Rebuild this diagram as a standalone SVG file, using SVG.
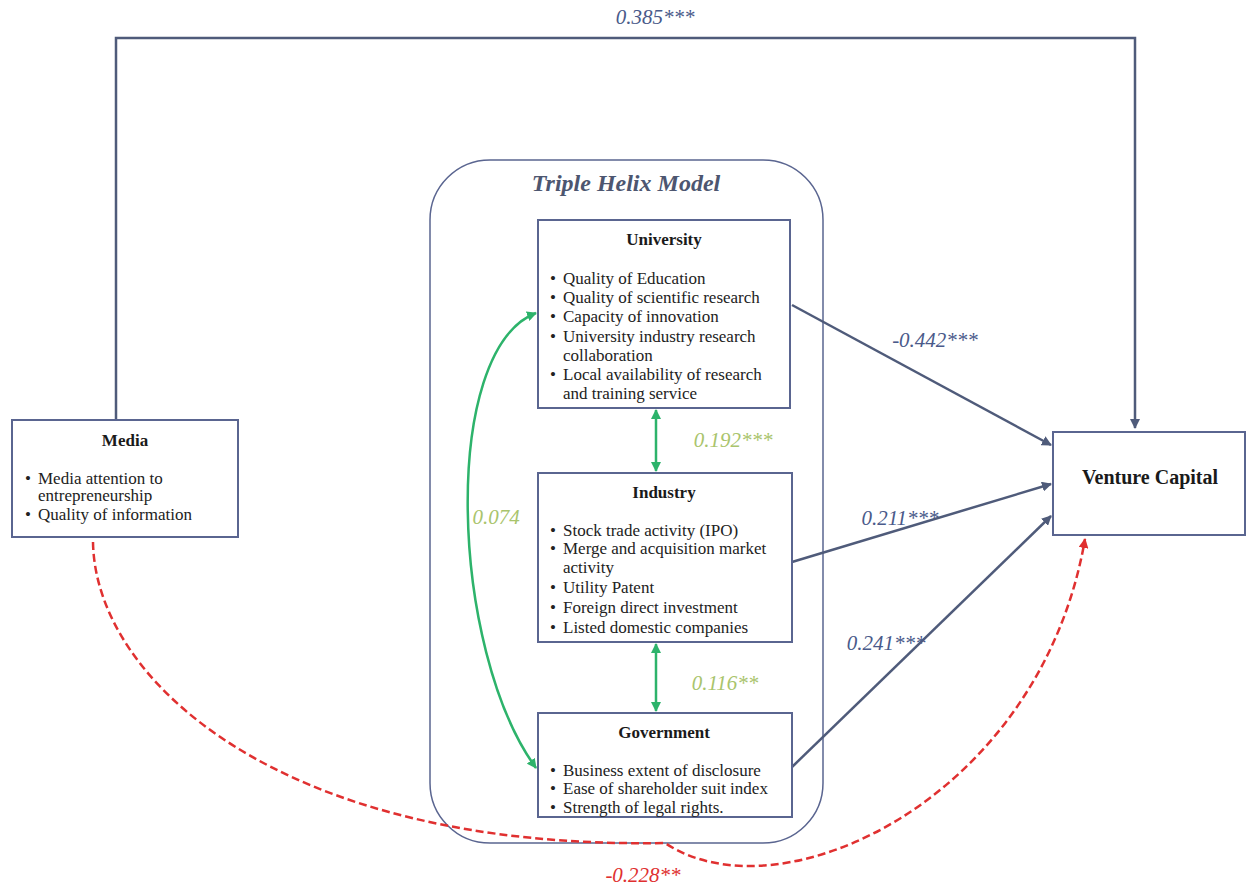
<svg xmlns="http://www.w3.org/2000/svg" width="1247" height="886" viewBox="0 0 1247 886">
<defs>
<style>
.box{fill:#fff;stroke:#5a6590;stroke-width:2}
.title{font-family:"Liberation Serif",serif;font-weight:bold;font-size:17px;fill:#1a1a1a;text-anchor:middle}
.vc{font-size:20px}
.item{font-family:"Liberation Serif",serif;font-size:17px;fill:#222}
.lbl{font-family:"Liberation Serif",serif;font-style:italic;font-size:21px}
.blue{fill:#4a5a8a}
.green{fill:#a9c46c}
.red{fill:#e03030}
.arr{fill:none;stroke:#4f5b7a;stroke-width:2.5}
.garr{fill:none;stroke:#2db36b;stroke-width:2.5}
.rarr{fill:none;stroke:#e03030;stroke-width:2.5;stroke-dasharray:8 4}
</style>
<marker id="ah" viewBox="0 0 10 10" refX="9" refY="5" markerWidth="4" markerHeight="4" orient="auto-start-reverse"><path d="M0,0 L10,5 L0,10 z" fill="#4f5b7a"/></marker>
<marker id="gh" viewBox="0 0 10 10" refX="9" refY="5" markerWidth="4" markerHeight="4" orient="auto-start-reverse"><path d="M0,0 L10,5 L0,10 z" fill="#2db36b"/></marker>
<marker id="rh" viewBox="0 0 10 10" refX="9" refY="5" markerWidth="4" markerHeight="4" orient="auto-start-reverse"><path d="M0,0 L10,5 L0,10 z" fill="#e03030"/></marker>
</defs>
<rect width="1247" height="886" fill="#fff"/>

<g id="triple-helix">
<rect x="430" y="160" width="393" height="683" rx="60" ry="60" fill="none" stroke="#5a6590" stroke-width="1.5"/>
<text x="626" y="191" font-family="Liberation Serif,serif" font-weight="bold" font-style="italic" font-size="24" fill="#4d5670" text-anchor="middle">Triple Helix Model</text>
</g>

<g id="connectors">
<path class="arr" d="M116,420 V38 H1135 V428" marker-end="url(#ah)"/>
<path class="arr" d="M792,305 L1051,445" marker-end="url(#ah)"/>
<path class="arr" d="M792,562 L1051,484" marker-end="url(#ah)"/>
<path class="arr" d="M792,767 L1051,516" marker-end="url(#ah)"/>
<path class="garr" d="M656,410 V471" marker-start="url(#gh)" marker-end="url(#gh)"/>
<path class="garr" d="M656,644 V711" marker-start="url(#gh)" marker-end="url(#gh)"/>
<path class="garr" d="M536,313 C440,350 450,650 536,768" marker-start="url(#gh)" marker-end="url(#gh)"/>
<path class="rarr" d="M93,542 C95,680 280,850 665,843 C780,920 1040,800 1085,539" marker-end="url(#rh)"/>
<text class="lbl blue" x="655" y="24" text-anchor="middle">0.385***</text>
<text class="lbl blue" x="935" y="347" text-anchor="middle">-0.442***</text>
<text class="lbl blue" x="900" y="525" text-anchor="middle">0.211***</text>
<text class="lbl blue" x="886" y="650" text-anchor="middle">0.241***</text>
<text class="lbl green" x="733" y="447" text-anchor="middle">0.192***</text>
<text class="lbl green" x="725" y="690" text-anchor="middle">0.116**</text>
<text class="lbl green" x="496" y="524" text-anchor="middle">0.074</text>
<text class="lbl red" x="643" y="882" text-anchor="middle">-0.228**</text>
</g>

<g id="media">
<rect class="box" x="12" y="420" width="226" height="117"/>
<text class="title" x="125" y="446">Media</text>
<text class="item" x="25" y="484">•</text><text class="item" x="38" y="484">Media attention to</text>
<text class="item" x="38" y="501">entrepreneurship</text>
<text class="item" x="25" y="520">•</text><text class="item" x="38" y="520">Quality of information</text>
</g>

<g id="university">
<rect class="box" x="538" y="220" width="252" height="188"/>
<text class="title" x="664" y="245">University</text>
<text class="item" x="550" y="284">•</text><text class="item" x="563" y="284">Quality of Education</text>
<text class="item" x="550" y="303">•</text><text class="item" x="563" y="303">Quality of scientific research</text>
<text class="item" x="550" y="322">•</text><text class="item" x="563" y="322">Capacity of innovation</text>
<text class="item" x="550" y="342">•</text><text class="item" x="563" y="342">University industry research</text>
<text class="item" x="563" y="361">collaboration</text>
<text class="item" x="550" y="380">•</text><text class="item" x="563" y="380">Local availability of research</text>
<text class="item" x="563" y="399">and training service</text>
</g>

<g id="industry">
<rect class="box" x="538" y="473" width="254" height="169"/>
<text class="title" x="664" y="498">Industry</text>
<text class="item" x="550" y="536">•</text><text class="item" x="563" y="536">Stock trade activity (IPO)</text>
<text class="item" x="550" y="554">•</text><text class="item" x="563" y="554">Merge and acquisition market</text>
<text class="item" x="563" y="573">activity</text>
<text class="item" x="550" y="593">•</text><text class="item" x="563" y="593">Utility Patent</text>
<text class="item" x="550" y="613">•</text><text class="item" x="563" y="613">Foreign direct investment</text>
<text class="item" x="550" y="633">•</text><text class="item" x="563" y="633">Listed domestic companies</text>
</g>

<g id="government">
<rect class="box" x="538" y="713" width="254" height="104"/>
<text class="title" x="664" y="738">Government</text>
<text class="item" x="550" y="776">•</text><text class="item" x="563" y="776">Business extent of disclosure</text>
<text class="item" x="550" y="794">•</text><text class="item" x="563" y="794">Ease of shareholder suit index</text>
<text class="item" x="550" y="813">•</text><text class="item" x="563" y="813">Strength of legal rights.</text>
</g>

<g id="venture-capital">
<rect class="box" x="1053" y="432" width="192" height="103"/>
<text class="title vc" x="1150" y="484">Venture Capital</text>
</g>
</svg>
